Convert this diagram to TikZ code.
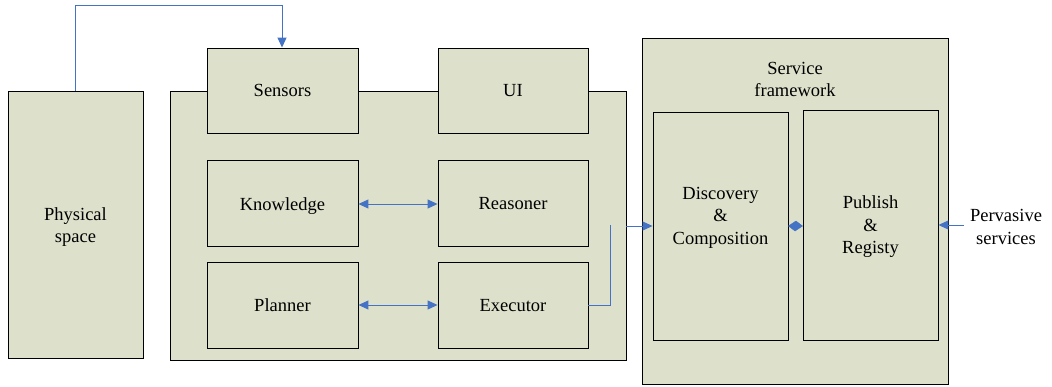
\documentclass[tikz,border=0pt]{standalone}
\usepackage{fontspec}
\setmainfont{Liberation Serif}
\usetikzlibrary{arrows.meta}
\definecolor{boxfill}{HTML}{DDE1CB}
\definecolor{arrowblue}{HTML}{4472C4}
\tikzset{
  box/.style={draw=black, line width=0.9pt, fill=boxfill, rectangle, inner sep=0pt, align=center, font=\fontsize{18.5}{22.5}\selectfont},
  lbl/.style={inner sep=0pt, align=center, font=\fontsize{18.5}{22.5}\selectfont},
  conn/.style={draw=arrowblue, line width=1pt},
  tip/.style={-{Triangle[length=10pt,width=9pt]}},
  dtip/.style={{Triangle[length=10pt,width=9pt]}-{Triangle[length=10pt,width=9pt]}}
}
\begin{document}
\begin{tikzpicture}[x=1pt,y=-1pt]
\useasboundingbox (0,0) rectangle (1052,386);
% Physical space
\node[box, minimum width=135, minimum height=267] (phys) at (75.5,224.5) {};
\node[lbl] (physt) at ([yshift=-2.5pt]phys.center) {Physical\\space};
% main agent box
\node[box, minimum width=456, minimum height=269] (main) at (398,225.5) {};
\node[box, minimum width=151, minimum height=85] (sens) at (282.5,90.5) {Sensors};
\node[box, minimum width=150, minimum height=85] (ui) at (513,90.5) {UI};
\node[box, minimum width=151, minimum height=86] (know) at (282.5,203.5) {};
\node[lbl] (knowt) at ([yshift=-2.5pt]know.center) {Knowledge};
\node[box, minimum width=150, minimum height=86] (reas) at (513,203.5) {Reasoner};
\node[box, minimum width=151, minimum height=86] (plan) at (282.5,305.5) {Planner};
\node[box, minimum width=150, minimum height=86] (exec) at (513,305.5) {Executor};
% service framework
\node[box, minimum width=306, minimum height=346] (sf) at (795,211) {};
\node[lbl] (sft) at (795,79.5) {Service\\framework};
\node[box, minimum width=135, minimum height=228] (disc) at (720.5,226) {};
\node[lbl] (disct) at (720.5,217.5) {Discovery\\\&\\Composition};
\node[box, minimum width=135, minimum height=230] (pub) at (870.5,225) {};
\node[lbl] (pubt) at ([yshift=-2pt]pub.center) {Publish\\\&\\Registy};
\node[lbl] (perv) at (1006,227) {Pervasive\\services};
% connectors
\coordinate (topl) at (75,5);
\coordinate (topr) at (282,5);
\draw[conn, tip] (phys.north -| topl) -- (topl) -- (topr) -- (sens.north -| topr);
\draw[conn, dtip] (know.east |- 0,204) -- (reas.west |- 0,204);
\draw[conn, dtip] (plan.east |- 0,305) -- (exec.west |- 0,305);
\coordinate (exup) at (610,225);
\draw[conn] (exec.east |- 0,305) -- (exup |- 0,305) -- (exup);
\draw[conn, tip] (main.east |- 0,226) -- (disc.west |- 0,226);
\draw[draw=arrowblue, fill=arrowblue] (disc.east |- 0,226) -- ++(7.5,-5) -- (pub.west |- 0,226) -- ++(-7.5,5) -- cycle;
\draw[conn, tip] (perv.west |- 0,225) ++(-6,0) coordinate (pvs) -- (pub.east |- 0,225);
\end{tikzpicture}
\end{document}
